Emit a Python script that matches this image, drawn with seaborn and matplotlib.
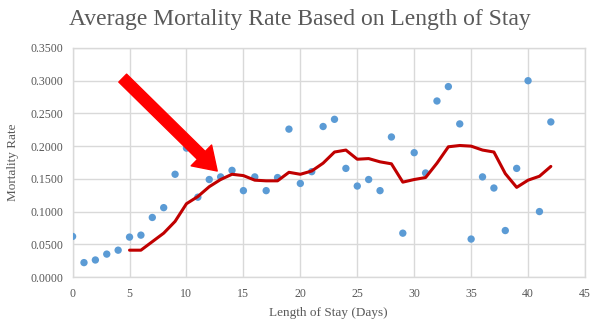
import matplotlib
matplotlib.use("Agg")
import matplotlib.pyplot as plt
import seaborn as sns
import pandas as pd
from matplotlib.ticker import FormatStrFormatter, MultipleLocator

days = list(range(0, 43))
mortality = [0.062, 0.022, 0.026, 0.035, 0.041, 0.061, 0.064, 0.091, 0.106, 0.157,
             0.197, 0.122, 0.149, 0.153, 0.163, 0.132, 0.153, 0.132, 0.152, 0.226,
             0.143, 0.161, 0.230, 0.241, 0.166, 0.139, 0.149, 0.132, 0.214, 0.067,
             0.190, 0.159, 0.269, 0.291, 0.234, 0.058, 0.153, 0.136, 0.071, 0.166,
             0.300, 0.100, 0.237]

trend_days = list(range(5, 43))
trend = [0.041, 0.041, 0.054, 0.067, 0.085, 0.112, 0.123, 0.138, 0.149, 0.157,
         0.155, 0.148, 0.147, 0.147, 0.160, 0.157, 0.162, 0.174, 0.191, 0.194,
         0.180, 0.181, 0.176, 0.173, 0.145, 0.149, 0.152, 0.174, 0.199, 0.201,
         0.200, 0.194, 0.191, 0.158, 0.137, 0.148, 0.154, 0.169]

df_pts = pd.DataFrame({"days": days, "rate": mortality})
df_trend = pd.DataFrame({"days": trend_days, "rate": trend})

sns.set_theme(style="whitegrid")
plt.rcParams["font.family"] = ["Liberation Serif", "DejaVu Serif"]

fig = plt.figure(figsize=(6.0, 3.23), dpi=100)
ax = fig.add_axes([0.121, 0.1424, 0.854, 0.709])

sns.scatterplot(data=df_pts, x="days", y="rate", ax=ax, color="#5B9BD5",
                s=28, edgecolor="none", zorder=3)
sns.lineplot(data=df_trend, x="days", y="rate", ax=ax, color="#C00000",
             linewidth=2.2, zorder=4)

ax.set_xlim(0, 45)
ax.set_ylim(0, 0.35)
ax.xaxis.set_major_locator(MultipleLocator(5))
ax.yaxis.set_major_locator(MultipleLocator(0.05))
ax.yaxis.set_major_formatter(FormatStrFormatter("%.4f"))
ax.grid(True, color="#D9D9D9", linewidth=1.0)
for sp in ax.spines.values():
    sp.set_color("#D9D9D9")
    sp.set_linewidth(1.0)
ax.tick_params(axis="both", labelsize=8.6, colors="#595959", length=0)
ax.tick_params(axis="x", pad=8)
ax.tick_params(axis="y", pad=7)

ax.set_xlabel("Length of Stay (Days)", fontsize=9.5, color="#595959", labelpad=5)
ax.set_ylabel("Mortality Rate", fontsize=9.5, color="#595959", labelpad=8)
fig.suptitle("Average Mortality Rate Based on Length of Stay", fontsize=17,
             color="#595959", y=0.972)

ax.annotate("", xy=(12.7, 0.162), xytext=(4.4, 0.304),
            arrowprops=dict(arrowstyle="simple,head_width=2.1,head_length=1.6,tail_width=0.8",
                            color="#FF0000", shrinkA=0, shrinkB=0, mutation_scale=10),
            zorder=5)

fig.savefig("out.png", dpi=100)
